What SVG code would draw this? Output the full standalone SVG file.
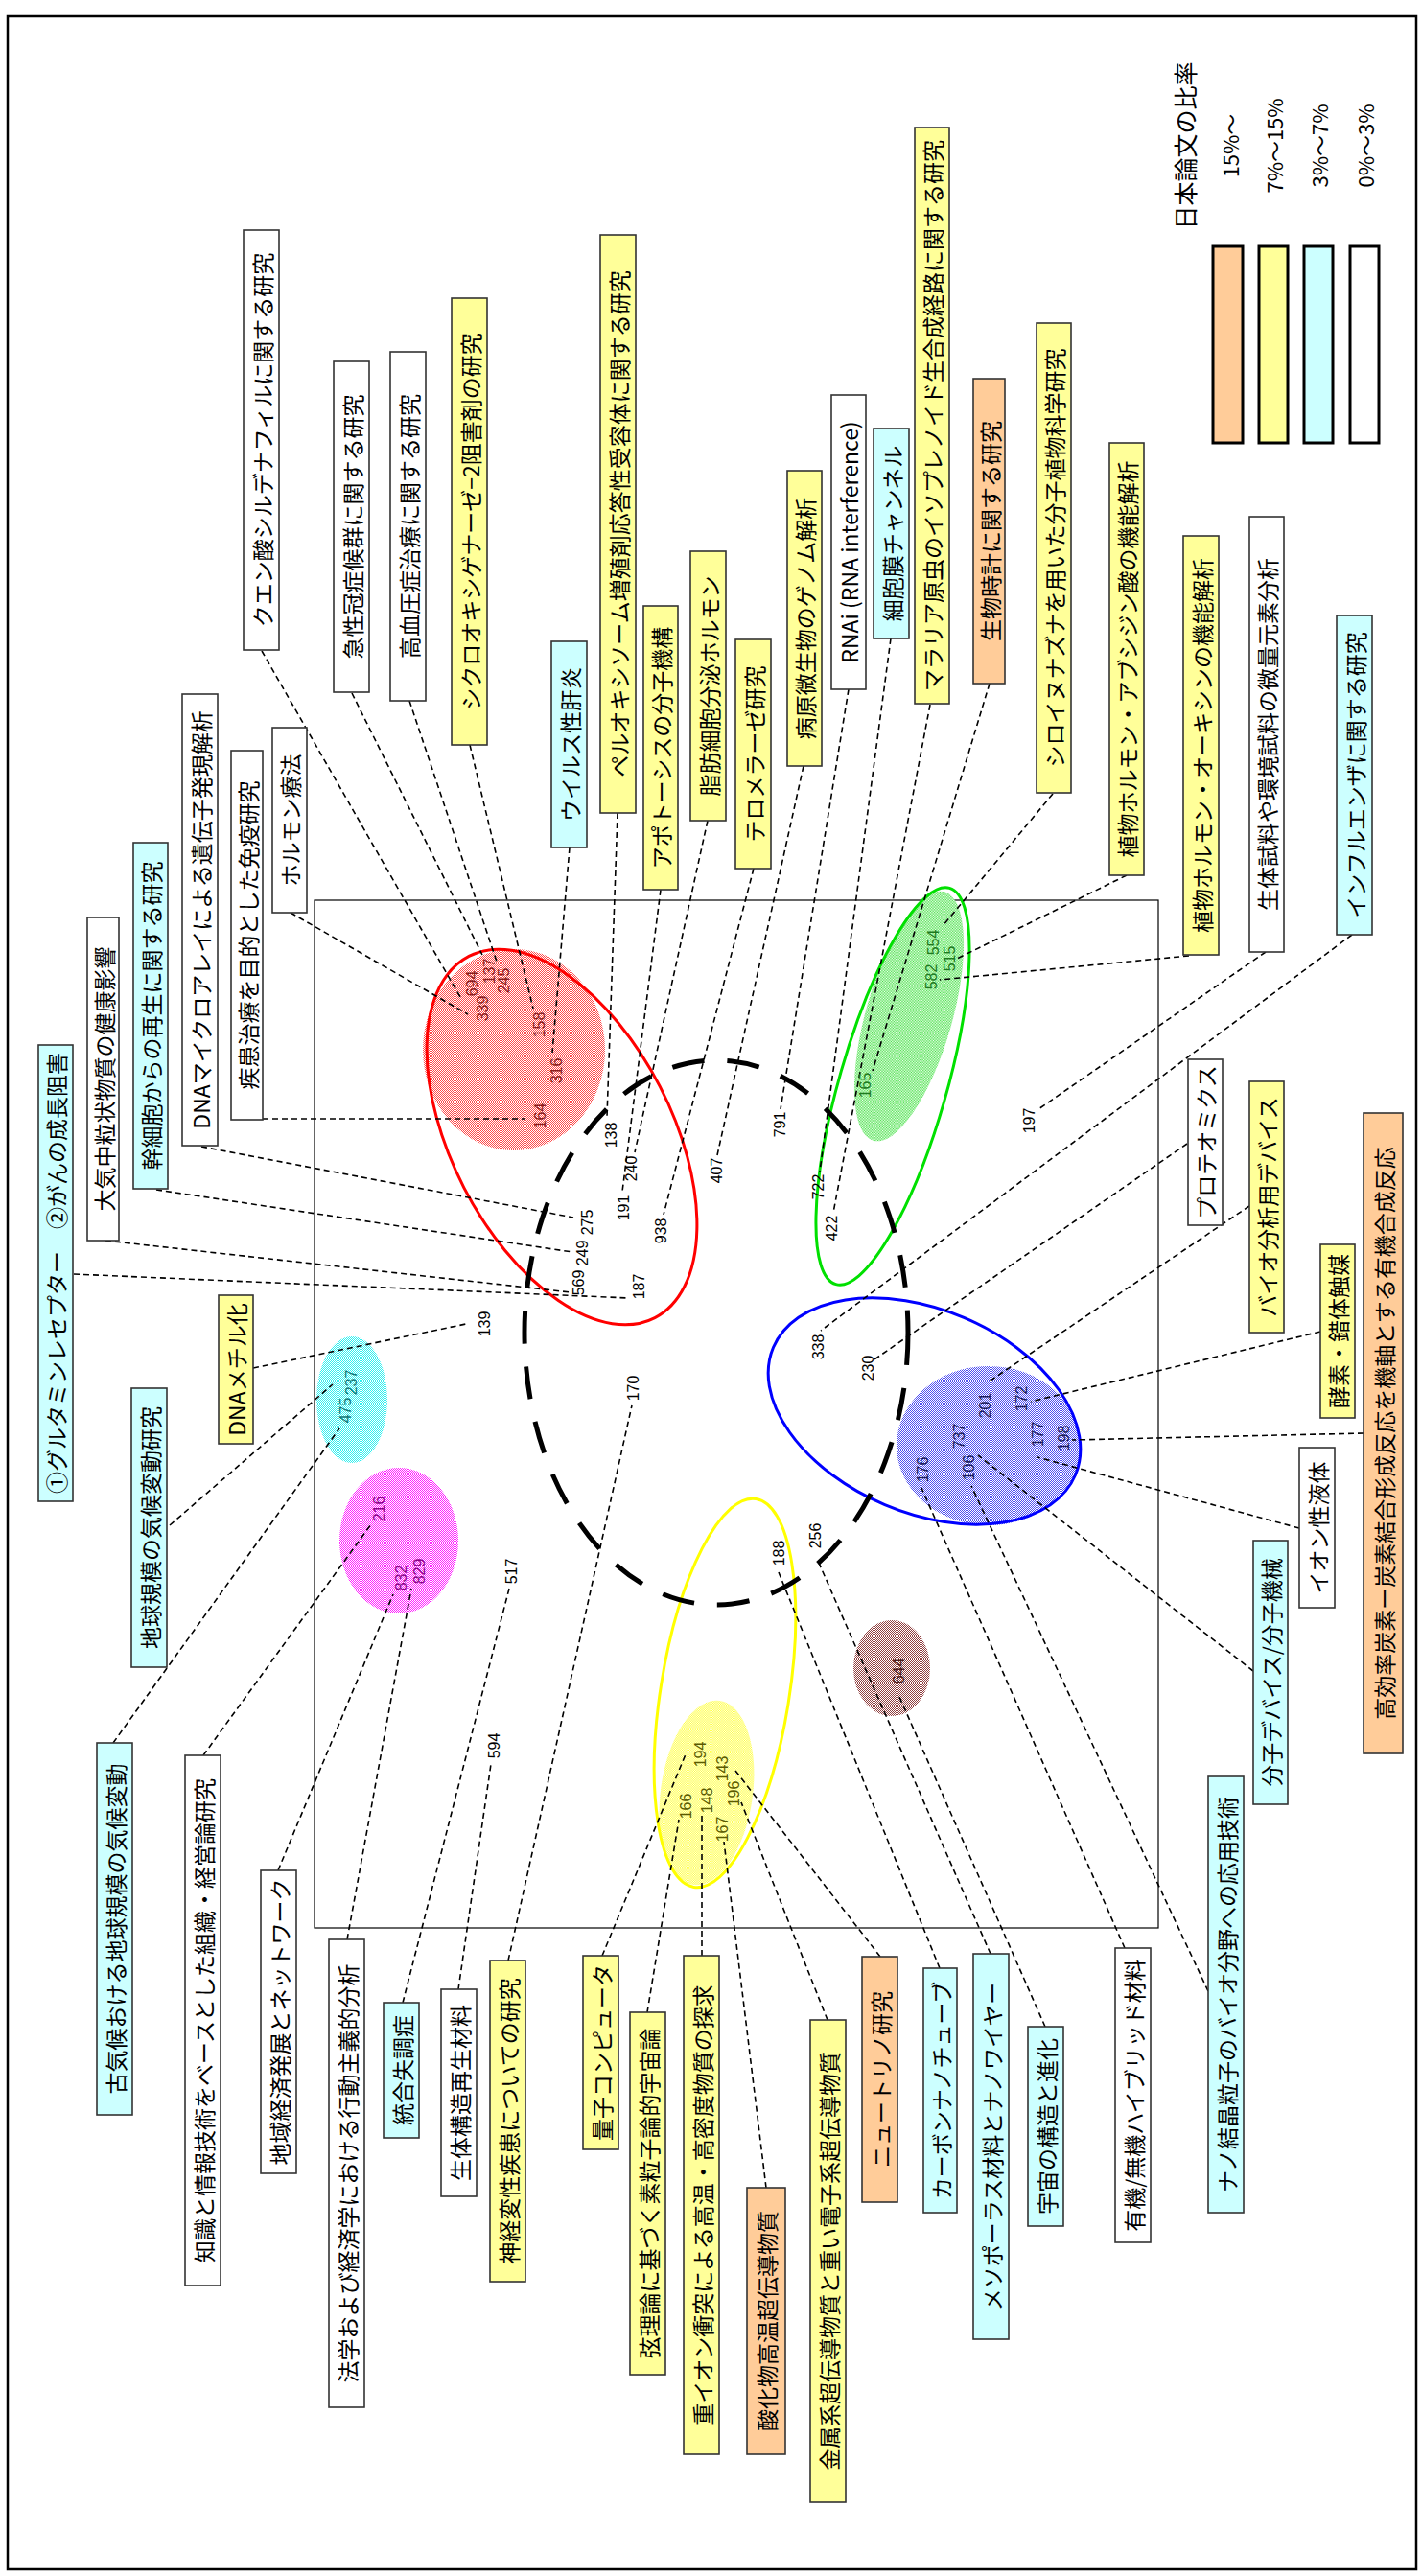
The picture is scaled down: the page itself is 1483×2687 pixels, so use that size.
<svg xmlns="http://www.w3.org/2000/svg" width="1483" height="2687" viewBox="0 0 1483 2687">
<style>
.bx{stroke:#333;stroke-width:1.6}
.w{fill:#fff}.y{fill:#ffff99}.c{fill:#ccffff}.o{fill:#ffcc99}
.t{font-family:'Noto Sans CJK JP','Liberation Sans',sans-serif;font-size:23px;text-anchor:middle;dominant-baseline:central;fill:#000}
.n{font-family:'Liberation Sans',sans-serif;font-size:16px;text-anchor:middle;dominant-baseline:central;fill:#000}
.nr{fill:#8b1c1c}.ng{fill:#1e7a1e}.nb{fill:#1a1a5a}.nc{fill:#107878}.nm{fill:#880088}.nn{fill:#4a1a1a}.ny{fill:#5a5a00}
.cn path{fill:none;stroke:#000;stroke-width:1.6;stroke-dasharray:6 4}
.lg{font-family:'Noto Sans CJK JP','Liberation Sans',sans-serif;text-anchor:middle;dominant-baseline:central;fill:#000}
</style>
<defs>
<pattern id="pR" width="2" height="2" patternUnits="userSpaceOnUse"><rect width="2" height="2" fill="#fff"/><rect width="1" height="1" fill="#ff4a4a"/><rect x="1" y="1" width="1" height="1" fill="#ff4a4a"/></pattern>
<pattern id="pG" width="2" height="2" patternUnits="userSpaceOnUse"><rect width="2" height="2" fill="#fff"/><rect width="1" height="1" fill="#40e040"/><rect x="1" y="1" width="1" height="1" fill="#40e040"/></pattern>
<pattern id="pB" width="2" height="2" patternUnits="userSpaceOnUse"><rect width="2" height="2" fill="#fff"/><rect width="1" height="1" fill="#5050f0"/><rect x="1" y="1" width="1" height="1" fill="#5050f0"/></pattern>
<pattern id="pC" width="2" height="2" patternUnits="userSpaceOnUse"><rect width="2" height="2" fill="#fff"/><rect width="1" height="1" fill="#30f0f0"/><rect x="1" y="1" width="1" height="1" fill="#30f0f0"/></pattern>
<pattern id="pM" width="2" height="2" patternUnits="userSpaceOnUse"><rect width="2" height="2" fill="#fff"/><rect width="1" height="1" fill="#ff20ff"/><rect x="1" y="1" width="1" height="1" fill="#ff20ff"/></pattern>
<pattern id="pN" width="2" height="2" patternUnits="userSpaceOnUse"><rect width="2" height="2" fill="#fff"/><rect width="1" height="1" fill="#904040"/><rect x="1" y="1" width="1" height="1" fill="#904040"/></pattern>
<pattern id="pY" width="2" height="2" patternUnits="userSpaceOnUse"><rect width="2" height="2" fill="#fff"/><rect width="1" height="1" fill="#ffff30"/><rect x="1" y="1" width="1" height="1" fill="#ffff30"/></pattern>
</defs>
<rect width="1483" height="2687" fill="#fff"/>
<rect x="8" y="17" width="1469" height="2663" fill="none" stroke="#000" stroke-width="2.5"/>
<rect x="328" y="939" width="880" height="1072" fill="none" stroke="#000" stroke-width="1.2"/>

<g id="clusters">
<ellipse cx="536" cy="1095" rx="95" ry="105" fill="url(#pR)"/>
<ellipse cx="948" cy="1060" rx="135" ry="45" transform="rotate(106 948 1060)" fill="url(#pG)"/>
<ellipse cx="1031" cy="1508" rx="96" ry="83" fill="url(#pB)"/>
<ellipse cx="367" cy="1460" rx="37" ry="66" fill="url(#pC)"/>
<ellipse cx="416" cy="1607" rx="62" ry="76" fill="url(#pM)"/>
<ellipse cx="930" cy="1740" rx="40" ry="50" fill="url(#pN)"/>
<ellipse cx="737" cy="1870" rx="48" ry="97" transform="rotate(8 737 1870)" fill="url(#pY)"/>
<ellipse cx="586" cy="1186" rx="212" ry="115" transform="rotate(62.8 586 1186)" fill="none" stroke="#ff0000" stroke-width="3"/>
<ellipse cx="931" cy="1133" rx="215" ry="56" transform="rotate(106 931 1133)" fill="none" stroke="#00e000" stroke-width="3"/>
<ellipse cx="964" cy="1472" rx="171" ry="106" transform="rotate(22.9 964 1472)" fill="none" stroke="#0000ff" stroke-width="3"/>
<ellipse cx="756" cy="1766" rx="67" ry="205" transform="rotate(9.1 756 1766)" fill="none" stroke="#ffff00" stroke-width="3"/>
<ellipse cx="747" cy="1390" rx="200" ry="284" fill="none" stroke="#000" stroke-width="5" stroke-dasharray="34 24"/>
</g>

<g id="connectors" class="cn">
<path d="M273 679L480 1040"/>
<path d="M367 723L503 996"/>
<path d="M427 731L518 1003"/>
<path d="M490 777L556 1052"/>
<path d="M594 884L576 1098"/>
<path d="M644 848L633 1165"/>
<path d="M303 952L488 1058"/>
<path d="M274 1167L548 1167"/>
<path d="M210 1196L598 1270"/>
<path d="M163 1241L597 1306"/>
<path d="M110 1294L595 1348"/>
<path d="M77 1329L656 1354"/>
<path d="M689 928L649 1243"/>
<path d="M738 856L662 1202"/>
<path d="M786 906L692 1267"/>
<path d="M838 799L748 1205"/>
<path d="M885 719L814 1157"/>
<path d="M929 666L855 1222"/>
<path d="M970 735L869 1265"/>
<path d="M1032 713L910 1117"/>
<path d="M1098 828L983 966"/>
<path d="M1175 913L998 1000"/>
<path d="M1240 997L980 1022"/>
<path d="M1320 993L1083 1157"/>
<path d="M1410 975L856 1388"/>
<path d="M1238 1193L912 1418"/>
<path d="M1303 1258L1030 1442"/>
<path d="M1377 1389L1075 1462"/>
<path d="M1422 1495L1118 1502"/>
<path d="M1355 1594L1082 1520"/>
<path d="M1307 1743L1020 1518"/>
<path d="M1260 2077L1013 1550"/>
<path d="M1173 2032L961 1552"/>
<path d="M530 2045L659 1466"/>
<path d="M420 2089L531 1657"/>
<path d="M478 2075L512 1840"/>
<path d="M212 1831L387 1590"/>
<path d="M290 1951L410 1663"/>
<path d="M362 2023L429 1657"/>
<path d="M118 1818L354 1490"/>
<path d="M177 1591L347 1444"/>
<path d="M264 1427L486 1381"/>
<path d="M628 2040L715 1830"/>
<path d="M675 2099L708 1898"/>
<path d="M732 2040L732 1893"/>
<path d="M799 2282L755 1921"/>
<path d="M863 2107L773 1880"/>
<path d="M918 2041L767 1847"/>
<path d="M980 2053L812 1640"/>
<path d="M1033 2038L853 1628"/>
<path d="M1090 2114L938 1770"/>
</g>

<g id="boxes">
<g id="b01"><rect class="bx c" x="40" y="1090" width="36" height="476"/><text class="t" transform="translate(58 1328) rotate(-90)">①グルタミンレセプター　②がんの成長阻害</text></g>
<g id="b02"><rect class="bx w" x="91" y="957" width="33" height="337"/><text class="t" transform="translate(107.5 1125.5) rotate(-90)">大気中粒状物質の健康影響</text></g>
<g id="b03"><rect class="bx c" x="139" y="879" width="36" height="361"/><text class="t" transform="translate(157 1059.5) rotate(-90)">幹細胞からの再生に関する研究</text></g>
<g id="b04"><rect class="bx w" x="190" y="724" width="37" height="471"/><text class="t" transform="translate(208.5 959.5) rotate(-90)">DNAマイクロアレイによる遺伝子発現解析</text></g>
<g id="b05"><rect class="bx w" x="241" y="783" width="33" height="385"/><text class="t" transform="translate(257.5 975.5) rotate(-90)">疾患治療を目的とした免疫研究</text></g>
<g id="b06"><rect class="bx w" x="284" y="759" width="36" height="193"/><text class="t" transform="translate(302 855.5) rotate(-90)">ホルモン療法</text></g>
<g id="b07"><rect class="bx w" x="254" y="240" width="37" height="438"/><text class="t" transform="translate(272.5 459) rotate(-90)">クエン酸シルデナフィルに関する研究</text></g>
<g id="b08"><rect class="bx w" x="348" y="377" width="37" height="345"/><text class="t" transform="translate(366.5 549.5) rotate(-90)">急性冠症候群に関する研究</text></g>
<g id="b09"><rect class="bx w" x="407" y="367" width="37" height="364"/><text class="t" transform="translate(425.5 549) rotate(-90)">高血圧症治療に関する研究</text></g>
<g id="b10"><rect class="bx y" x="471" y="311" width="37" height="466"/><text class="t" transform="translate(489.5 544) rotate(-90)">シクロオキシゲナーゼ−2阻害剤の研究</text></g>
<g id="b11"><rect class="bx c" x="575" y="669" width="37" height="215"/><text class="t" transform="translate(593.5 776.5) rotate(-90)">ウイルス性肝炎</text></g>
<g id="b12"><rect class="bx y" x="626" y="245" width="37" height="603"/><text class="t" transform="translate(644.5 546.5) rotate(-90)">ペルオキシソーム増殖剤応答性受容体に関する研究</text></g>
<g id="b13"><rect class="bx y" x="671" y="632" width="36" height="296"/><text class="t" transform="translate(689 780) rotate(-90)">アポトーシスの分子機構</text></g>
<g id="b14"><rect class="bx y" x="720" y="575" width="37" height="281"/><text class="t" transform="translate(738.5 715.5) rotate(-90)">脂肪細胞分泌ホルモン</text></g>
<g id="b15"><rect class="bx y" x="767" y="667" width="37" height="239"/><text class="t" transform="translate(785.5 786.5) rotate(-90)">テロメラーゼ研究</text></g>
<g id="b16"><rect class="bx y" x="821" y="491" width="36" height="308"/><text class="t" transform="translate(839 645) rotate(-90)">病原微生物のゲノム解析</text></g>
<g id="b17"><rect class="bx w" x="867" y="412" width="36" height="307"/><text class="t" transform="translate(885 565.5) rotate(-90)">RNAi (RNA interference)</text></g>
<g id="b18"><rect class="bx c" x="911" y="447" width="37" height="219"/><text class="t" transform="translate(929.5 556.5) rotate(-90)">細胞膜チャンネル</text></g>
<g id="b19"><rect class="bx y" x="954" y="133" width="36" height="601"/><text class="t" transform="translate(972 433.5) rotate(-90)">マラリア原虫のイソプレノイド生合成経路に関する研究</text></g>
<g id="b20"><rect class="bx o" x="1015" y="395" width="33" height="318"/><text class="t" transform="translate(1031.5 554) rotate(-90)">生物時計に関する研究</text></g>
<g id="b21"><rect class="bx y" x="1081" y="337" width="36" height="490"/><text class="t" transform="translate(1099 582) rotate(-90)">シロイヌナズナを用いた分子植物科学研究</text></g>
<g id="b22"><rect class="bx y" x="1157" y="462" width="36" height="451"/><text class="t" transform="translate(1175 687.5) rotate(-90)">植物ホルモン・アブシジン酸の機能解析</text></g>
<g id="b23"><rect class="bx y" x="1234" y="559" width="37" height="437"/><text class="t" transform="translate(1252.5 777.5) rotate(-90)">植物ホルモン・オーキシンの機能解析</text></g>
<g id="b24"><rect class="bx w" x="1303" y="539" width="36" height="454"/><text class="t" transform="translate(1321 766) rotate(-90)">生体試料や環境試料の微量元素分析</text></g>
<g id="b25"><rect class="bx c" x="1394" y="642" width="37" height="333"/><text class="t" transform="translate(1412.5 808.5) rotate(-90)">インフルエンザに関する研究</text></g>
<g id="b26"><rect class="bx w" x="1239" y="1105" width="36" height="173"/><text class="t" transform="translate(1257 1191.5) rotate(-90)">プロテオミクス</text></g>
<g id="b27"><rect class="bx y" x="1303" y="1128" width="36" height="262"/><text class="t" transform="translate(1321 1259) rotate(-90)">バイオ分析用デバイス</text></g>
<g id="b28"><rect class="bx y" x="1377" y="1298" width="36" height="181"/><text class="t" transform="translate(1395 1388.5) rotate(-90)">酵素・錯体触媒</text></g>
<g id="b29"><rect class="bx o" x="1422" y="1161" width="41" height="668"/><text class="t" transform="translate(1442.5 1495) rotate(-90)">高効率炭素ー炭素結合形成反応を機軸とする有機合成反応</text></g>
<g id="b30"><rect class="bx w" x="1355" y="1510" width="37" height="167"/><text class="t" transform="translate(1373.5 1593.5) rotate(-90)">イオン性液体</text></g>
<g id="b31"><rect class="bx c" x="1307" y="1607" width="36" height="275"/><text class="t" transform="translate(1325 1744.5) rotate(-90)">分子デバイス/分子機械</text></g>
<g id="b32"><rect class="bx c" x="1260" y="1853" width="37" height="455"/><text class="t" transform="translate(1278.5 2080.5) rotate(-90)">ナノ結晶粒子のバイオ分野への応用技術</text></g>
<g id="b33"><rect class="bx w" x="1163" y="2032" width="37" height="307"/><text class="t" transform="translate(1181.5 2185.5) rotate(-90)">有機/無機ハイブリッド材料</text></g>
<g id="b34"><rect class="bx y" x="228" y="1351" width="36" height="155"/><text class="t" transform="translate(246 1428.5) rotate(-90)">DNAメチル化</text></g>
<g id="b35"><rect class="bx c" x="137" y="1448" width="37" height="291"/><text class="t" transform="translate(155.5 1593.5) rotate(-90)">地球規模の気候変動研究</text></g>
<g id="b36"><rect class="bx c" x="101" y="1818" width="37" height="388"/><text class="t" transform="translate(119.5 2012) rotate(-90)">古気候おける地球規模の気候変動</text></g>
<g id="b37"><rect class="bx w" x="193" y="1831" width="37" height="553"/><text class="t" transform="translate(211.5 2107.5) rotate(-90)">知識と情報技術をベースとした組織・経営論研究</text></g>
<g id="b38"><rect class="bx w" x="272" y="1951" width="37" height="316"/><text class="t" transform="translate(290.5 2109) rotate(-90)">地域経済発展とネットワーク</text></g>
<g id="b39"><rect class="bx w" x="343" y="2023" width="37" height="488"/><text class="t" transform="translate(361.5 2267) rotate(-90)">法学および経済学における行動主義的分析</text></g>
<g id="b40"><rect class="bx c" x="400" y="2089" width="37" height="141"/><text class="t" transform="translate(418.5 2159.5) rotate(-90)">統合失調症</text></g>
<g id="b41"><rect class="bx w" x="460" y="2075" width="37" height="216"/><text class="t" transform="translate(478.5 2183) rotate(-90)">生体構造再生材料</text></g>
<g id="b42"><rect class="bx y" x="511" y="2045" width="37" height="335"/><text class="t" transform="translate(529.5 2212.5) rotate(-90)">神経変性疾患についての研究</text></g>
<g id="b43"><rect class="bx y" x="608" y="2040" width="37" height="202"/><text class="t" transform="translate(626.5 2141) rotate(-90)">量子コンピュータ</text></g>
<g id="b44"><rect class="bx y" x="657" y="2099" width="37" height="378"/><text class="t" transform="translate(675.5 2288) rotate(-90)">弦理論に基づく素粒子論的宇宙論</text></g>
<g id="b45"><rect class="bx y" x="713" y="2040" width="37" height="520"/><text class="t" transform="translate(731.5 2300) rotate(-90)">重イオン衝突による高温・高密度物質の探求</text></g>
<g id="b46"><rect class="bx o" x="779" y="2282" width="40" height="278"/><text class="t" transform="translate(799 2421) rotate(-90)">酸化物高温超伝導物質</text></g>
<g id="b47"><rect class="bx y" x="845" y="2107" width="37" height="503"/><text class="t" transform="translate(863.5 2358.5) rotate(-90)">金属系超伝導物質と重い電子系超伝導物質</text></g>
<g id="b48"><rect class="bx o" x="899" y="2041" width="37" height="256"/><text class="t" transform="translate(917.5 2169) rotate(-90)">ニュートリノ研究</text></g>
<g id="b49"><rect class="bx c" x="963" y="2053" width="35" height="255"/><text class="t" transform="translate(980.5 2180.5) rotate(-90)">カーボンナノチューブ</text></g>
<g id="b50"><rect class="bx c" x="1015" y="2038" width="37" height="402"/><text class="t" transform="translate(1033.5 2239) rotate(-90)">メソポーラス材料とナノワイヤー</text></g>
<g id="b51"><rect class="bx c" x="1072" y="2114" width="37" height="208"/><text class="t" transform="translate(1090.5 2218) rotate(-90)">宇宙の構造と進化</text></g>
</g>

<g id="numbers">
<text class="n nr" transform="translate(492 1026) rotate(-90)">694</text>
<text class="n nr" transform="translate(503 1052) rotate(-90)">339</text>
<text class="n nr" transform="translate(510 1013) rotate(-90)">137</text>
<text class="n nr" transform="translate(525 1023) rotate(-90)">245</text>
<text class="n nr" transform="translate(562 1069) rotate(-90)">158</text>
<text class="n nr" transform="translate(580 1117) rotate(-90)">316</text>
<text class="n nr" transform="translate(563 1164) rotate(-90)">164</text>
<text class="n" transform="translate(637 1184) rotate(-90)">138</text>
<text class="n" transform="translate(650 1260) rotate(-90)">191</text>
<text class="n" transform="translate(658 1219) rotate(-90)">240</text>
<text class="n" transform="translate(689 1284) rotate(-90)">938</text>
<text class="n" transform="translate(747 1221) rotate(-90)">407</text>
<text class="n" transform="translate(813 1173) rotate(-90)">791</text>
<text class="n" transform="translate(853 1238) rotate(-90)">722</text>
<text class="n" transform="translate(867 1281) rotate(-90)">422</text>
<text class="n" transform="translate(612 1275) rotate(-90)">275</text>
<text class="n" transform="translate(607 1307) rotate(-90)">249</text>
<text class="n" transform="translate(603 1338) rotate(-90)">569</text>
<text class="n" transform="translate(666 1342) rotate(-90)">187</text>
<text class="n" transform="translate(505 1381) rotate(-90)">139</text>
<text class="n" transform="translate(660 1448) rotate(-90)">170</text>
<text class="n" transform="translate(533 1639) rotate(-90)">517</text>
<text class="n" transform="translate(515 1821) rotate(-90)">594</text>
<text class="n" transform="translate(853 1405) rotate(-90)">338</text>
<text class="n" transform="translate(905 1427) rotate(-90)">230</text>
<text class="n" transform="translate(812 1620) rotate(-90)">188</text>
<text class="n" transform="translate(850 1602) rotate(-90)">256</text>
<text class="n" transform="translate(1073 1169) rotate(-90)">197</text>
<text class="n ng" transform="translate(902 1132) rotate(-90)">165</text>
<text class="n ng" transform="translate(971 1019) rotate(-90)">582</text>
<text class="n ng" transform="translate(973 983) rotate(-90)">554</text>
<text class="n ng" transform="translate(990 1000) rotate(-90)">515</text>
<text class="n nb" transform="translate(1027 1466) rotate(-90)">201</text>
<text class="n nb" transform="translate(1065 1459) rotate(-90)">172</text>
<text class="n nb" transform="translate(1082 1496) rotate(-90)">177</text>
<text class="n nb" transform="translate(1109 1500) rotate(-90)">198</text>
<text class="n nb" transform="translate(1000 1498) rotate(-90)">737</text>
<text class="n nb" transform="translate(1010 1531) rotate(-90)">106</text>
<text class="n nb" transform="translate(962 1533) rotate(-90)">176</text>
<text class="n nc" transform="translate(360 1471) rotate(-90)">475</text>
<text class="n nc" transform="translate(366 1442) rotate(-90)">237</text>
<text class="n nm" transform="translate(395 1574) rotate(-90)">216</text>
<text class="n nm" transform="translate(418 1646) rotate(-90)">832</text>
<text class="n nm" transform="translate(437 1639) rotate(-90)">829</text>
<text class="n nn" transform="translate(937 1743) rotate(-90)">644</text>
<text class="n ny" transform="translate(730 1830) rotate(-90)">194</text>
<text class="n ny" transform="translate(753 1845) rotate(-90)">143</text>
<text class="n ny" transform="translate(765 1871) rotate(-90)">196</text>
<text class="n ny" transform="translate(737 1878) rotate(-90)">148</text>
<text class="n ny" transform="translate(715 1884) rotate(-90)">166</text>
<text class="n ny" transform="translate(753 1908) rotate(-90)">167</text>
</g>

<g id="legend">
<text class="lg" font-size="25" transform="translate(1235 152) rotate(-90)">日本論文の比率</text>
<text class="lg" font-size="22" transform="translate(1282 152) rotate(-90)">15%〜</text>
<text class="lg" font-size="22" transform="translate(1328 152) rotate(-90)">7%〜15%</text>
<text class="lg" font-size="22" transform="translate(1375 152) rotate(-90)">3%〜7%</text>
<text class="lg" font-size="22" transform="translate(1423 152) rotate(-90)">0%〜3%</text>
<rect x="1265" y="257" width="31" height="205" fill="#ffcc99" stroke="#000" stroke-width="3"/>
<rect x="1313" y="257" width="30" height="205" fill="#ffff99" stroke="#000" stroke-width="3"/>
<rect x="1360" y="257" width="30" height="205" fill="#ccffff" stroke="#000" stroke-width="3"/>
<rect x="1408" y="257" width="30" height="205" fill="#fff" stroke="#000" stroke-width="3"/>
</g>
</svg>
